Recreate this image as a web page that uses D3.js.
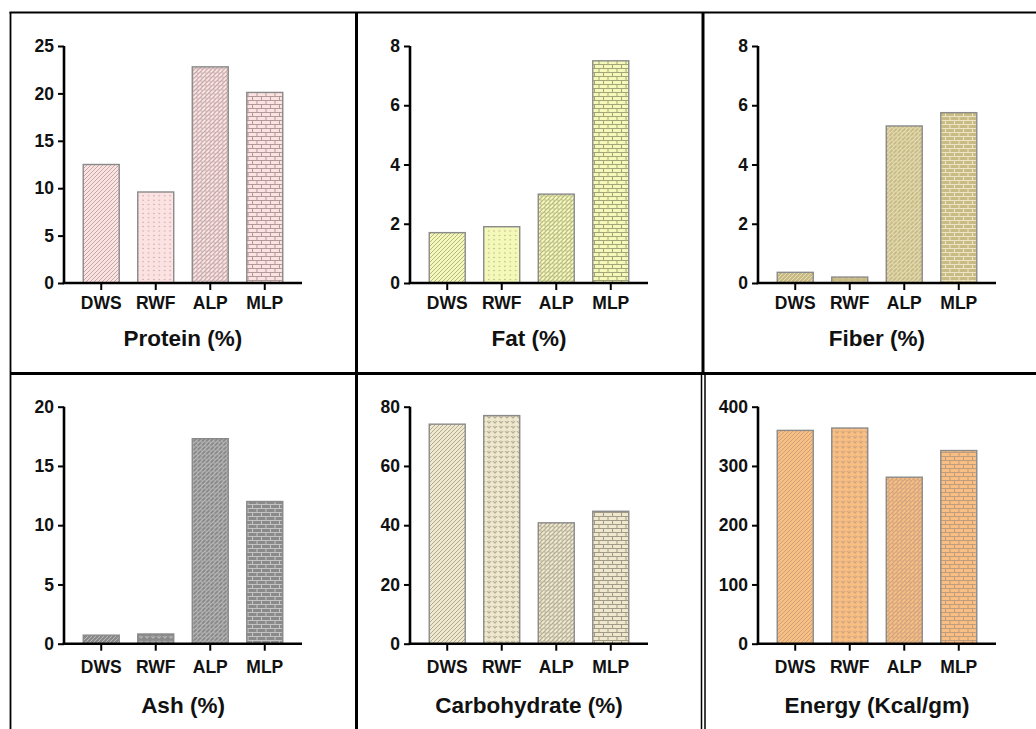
<!DOCTYPE html>
<html>
<head>
<meta charset="utf-8">
<script src="https://cdn.jsdelivr.net/npm/d3@7"></script>
<style>
  html, body { margin: 0; padding: 0; background: #fff; }
  svg { display: block; }
  text { font-family: "Liberation Sans", Arial, Helvetica, sans-serif; font-weight: bold; fill: #111; }
</style>
</head>
<body>
<svg id="chart" width="1036" height="729"></svg>
<script>
// ---------- data ----------
const categories = ["DWS", "RWF", "ALP", "MLP"];
const panelTitles = ["Protein (%)", "Fat (%)", "Fiber (%)", "Ash (%)", "Carbohydrate (%)", "Energy (Kcal/gm)"];
const proteinValues = [12.5, 9.6, 22.8, 20.1];
const fatValues = [1.7, 1.9, 3.0, 7.5];
const fiberValues = [0.36, 0.2, 5.3, 5.75];
const ashValues = [0.72, 0.82, 17.3, 12.0];
const carbValues = [74.1, 77.0, 40.8, 44.7];
const energyValues = [360, 364, 281, 326];
const yMaxes = [25, 8, 8, 20, 80, 400];
const yTickValues = [
  [0, 5, 10, 15, 20, 25],
  [0, 2, 4, 6, 8],
  [0, 2, 4, 6, 8],
  [0, 5, 10, 15, 20],
  [0, 20, 40, 60, 80],
  [0, 100, 200, 300, 400]
];
const seriesValues = [proteinValues, fatValues, fiberValues, ashValues, carbValues, energyValues];

// ---------- styles ----------
const fills = ["#fde2e2", "#f4f8b8", "#c8bb84", "#8a8a8a", "#efe8cd", "#f9be82"];
const patColors = ["#b09a9a", "#a4a478", "#ece4c4", "#c4c4c4", "#a09a88", "#c09c80"];
const rwfPatternType = ["dots", "dots", "weave", "weave", "weave", "weave"];

const svg = d3.select("#chart");
const defs = svg.append("defs");

function makePatterns(i) {
  const fill = fills[i], pc = patColors[i];
  // diagonal lines
  let p = defs.append("pattern").attr("id", `diag${i}`).attr("patternUnits", "userSpaceOnUse")
    .attr("width", 4).attr("height", 4);
  p.append("rect").attr("width", 4).attr("height", 4).attr("fill", fill);
  p.append("path").attr("d", "M-1,1 L1,-1 M0,4 L4,0 M3,5 L5,3").attr("stroke", pc).attr("stroke-width", 0.8);

  // dots
  p = defs.append("pattern").attr("id", `dots${i}`).attr("patternUnits", "userSpaceOnUse")
    .attr("width", 5.4).attr("height", 4.4);
  p.append("rect").attr("width", 5.4).attr("height", 4.4).attr("fill", fill);
  p.append("circle").attr("cx", 2.7).attr("cy", 2.2).attr("r", 0.7).attr("fill", pc);

  // weave
  p = defs.append("pattern").attr("id", `weave${i}`).attr("patternUnits", "userSpaceOnUse")
    .attr("width", 6).attr("height", 5);
  p.append("rect").attr("width", 6).attr("height", 5).attr("fill", fill);
  p.append("path").attr("d", "M1,1.2 L3,3.3 L5,1.2").attr("stroke", pc).attr("stroke-width", 1).attr("fill", "none");
  p.append("circle").attr("cx", 3).attr("cy", 1.1).attr("r", 0.6).attr("fill", pc);

  // diagonal zigzag brick (ALP)
  p = defs.append("pattern").attr("id", `dbrick${i}`).attr("patternUnits", "userSpaceOnUse")
    .attr("width", 6).attr("height", 6).attr("patternTransform", "rotate(-45)");
  p.append("rect").attr("width", 6).attr("height", 6).attr("fill", fill);
  p.append("path").attr("d", "M0,0.5 H6 M0,3.5 H6 M1,0.5 V3.5 M4,3.5 V6.5 M4,-2.5 V0.5")
    .attr("stroke", pc).attr("stroke-width", 0.8);

  // brick (MLP)
  p = defs.append("pattern").attr("id", `brick${i}`).attr("patternUnits", "userSpaceOnUse")
    .attr("width", 9).attr("height", 8);
  p.append("rect").attr("width", 9).attr("height", 8).attr("fill", fill);
  p.append("path").attr("d", "M0,0.5 H9 M0,4.5 H9 M0.5,0.5 V4.5 M5,4.5 V8.5")
    .attr("stroke", pc).attr("stroke-width", 1);
}

// ---------- layout ----------
const colAxisX = [64, 410, 758];
const plotWidth = 238;
const rows = [
  { top: 46, zero: 283, labelPad: 7, titleY: 346 },
  { top: 406.7, zero: 643.7, labelPad: 10, titleY: 712.5 }
];

seriesValues.forEach((vals, i) => {
  makePatterns(i);
  const col = i % 3, row = rows[Math.floor(i / 3)];
  const x0 = colAxisX[col];
  const x = d3.scaleBand().domain(categories).range([x0, x0 + plotWidth])
    .paddingInner(0.34).paddingOuter(0.353);
  const y = d3.scaleLinear().domain([0, yMaxes[i]]).range([row.zero, row.top]);
  const g = svg.append("g");

  const patIds = [`diag${i}`, `${rwfPatternType[i]}${i}`, `dbrick${i}`, `brick${i}`];
  g.selectAll("rect.bar").data(vals).join("rect")
    .attr("class", "bar")
    .attr("x", (d, j) => x(categories[j]))
    .attr("width", x.bandwidth())
    .attr("y", d => y(d))
    .attr("height", d => y(0) - y(d))
    .attr("fill", (d, j) => `url(#${patIds[j]})`)
    .attr("stroke", "#8a8a8a")
    .attr("stroke-width", 1.4);

  // y axis
  const ya = g.append("g").attr("transform", `translate(${x0},0)`)
    .call(d3.axisLeft(y).tickValues(yTickValues[i]).tickSize(6).tickPadding(4).tickFormat(d3.format("d")));
  ya.select(".domain").attr("stroke", "#000").attr("stroke-width", 2.6).attr("d", `M0,${row.top}V${row.zero}`);
  ya.selectAll(".tick line").attr("stroke", "#000").attr("stroke-width", 2);
  ya.selectAll(".tick text").style("font-size", "17.5px").attr("fill", "#111");

  // x axis
  const xa = g.append("g").attr("transform", `translate(0,${row.zero})`)
    .call(d3.axisBottom(x).tickSize(7).tickPadding(row.labelPad));
  xa.select(".domain").attr("stroke", "#000").attr("stroke-width", 2.6).attr("d", `M${x0 - 1.3},0H${x0 + plotWidth}`);
  xa.selectAll(".tick line").attr("stroke", "#000").attr("stroke-width", 2);
  xa.selectAll(".tick text").style("font-size", "17.5px").attr("fill", "#111");

  g.append("text").attr("x", x0 + plotWidth / 2).attr("y", row.titleY)
    .attr("text-anchor", "middle").style("font-size", "22.5px").text(panelTitles[i]);
});

// ---------- frame lines ----------
const frame = svg.append("g").attr("stroke", "#000").attr("fill", "none");
frame.append("line").attr("x1", 9.5).attr("x2", 1036).attr("y1", 12.5).attr("y2", 12.5).attr("stroke-width", 2);
frame.append("line").attr("x1", 10.5).attr("x2", 10.5).attr("y1", 12).attr("y2", 729).attr("stroke-width", 1.8);
frame.append("line").attr("x1", 10).attr("x2", 1036).attr("y1", 373.5).attr("y2", 373.5).attr("stroke-width", 3);
frame.append("line").attr("x1", 356.5).attr("x2", 356.5).attr("y1", 12).attr("y2", 729).attr("stroke-width", 3);
frame.append("line").attr("x1", 703).attr("x2", 703).attr("y1", 12).attr("y2", 373).attr("stroke-width", 3);
frame.append("line").attr("x1", 701.5).attr("x2", 701.5).attr("y1", 373).attr("y2", 729).attr("stroke-width", 1.5);
frame.append("line").attr("x1", 705).attr("x2", 705).attr("y1", 373).attr("y2", 729).attr("stroke-width", 1.5);
</script>
</body>
</html>
